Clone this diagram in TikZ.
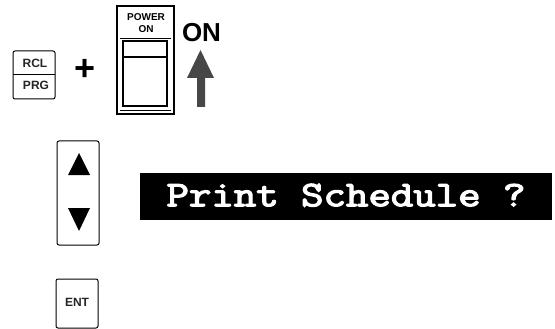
\documentclass[tikz,border=0pt]{standalone}
\usepackage{fontspec}
\setmainfont{Liberation Sans}
\newfontfamily\dispf[FakeBold=3.2]{Latin Modern Mono}
\tikzset{
  keybox/.style={draw=black,line width=1pt,rounded corners=2pt,fill=white},
  keylabel/.style={font=\fontsize{12}{13}\selectfont\bfseries,inner sep=0pt,text=black!85},
  solidtri/.style={fill=black,draw=none},
  hatcharrow/.style={draw=none,fill=black!72}
}
\begin{document}
\begin{tikzpicture}[x=1pt,y=-1pt]
\useasboundingbox (0,0) rectangle (555,329);
% RCL / PRG key
\draw[keybox] (13,51) rectangle (55,99);
\draw[line width=1pt] (13,75) -- (55,75);
\node[keylabel] (rcl) at (35,63) {RCL};
\node[keylabel] (prg) at (36,85.5) {PRG};
% plus
\node[font=\fontsize{36}{36}\selectfont\bfseries,inner sep=0pt] (plus) at (85,70) {+};
% power switch
\draw[draw=black,line width=1.1pt,fill=white] (117,6) rectangle (174,114);
\node[font=\fontsize{10}{11}\selectfont\bfseries,inner sep=0pt,align=center] (power) at (146,23) {POWER\\[1pt]ON};
\draw[line width=0.6pt] (120,38) -- (171,38);
\draw[line width=0.6pt] (120,110) -- (171,110);
\draw[line width=1.2pt] (123,41) rectangle (167,106);
\draw[line width=1.2pt] (123,57) -- (167,57);
% ON + arrow
\node[font=\fontsize{26}{26}\selectfont\bfseries,inner sep=0pt] (on) at (201.5,33) {ON};
\fill[hatcharrow] (200.5,50) -- (214,78) -- (205,78) -- (205,107) -- (197,107) -- (197,78) -- (187,78) -- cycle;
% up/down key
\draw[keybox] (57,141) rectangle (99,245);
\fill[solidtri] (79,153) -- (90,175) -- (68,175) -- cycle;
\fill[solidtri] (68,208) -- (90,208) -- (79,231) -- cycle;
% ENT
\draw[keybox] (56,279) rectangle (98,328);
\node[keylabel] (ent) at (77,302) {ENT};
% display
\node[fill=black,minimum width=412pt,minimum height=47pt,inner sep=0pt,text=white,
  font=\dispf\fontsize{36}{36}\selectfont] (disp) at (346,196) {\raisebox{2pt}{\scalebox{1.21}[1]{Print Schedule ?}}};
\end{tikzpicture}
\end{document}
